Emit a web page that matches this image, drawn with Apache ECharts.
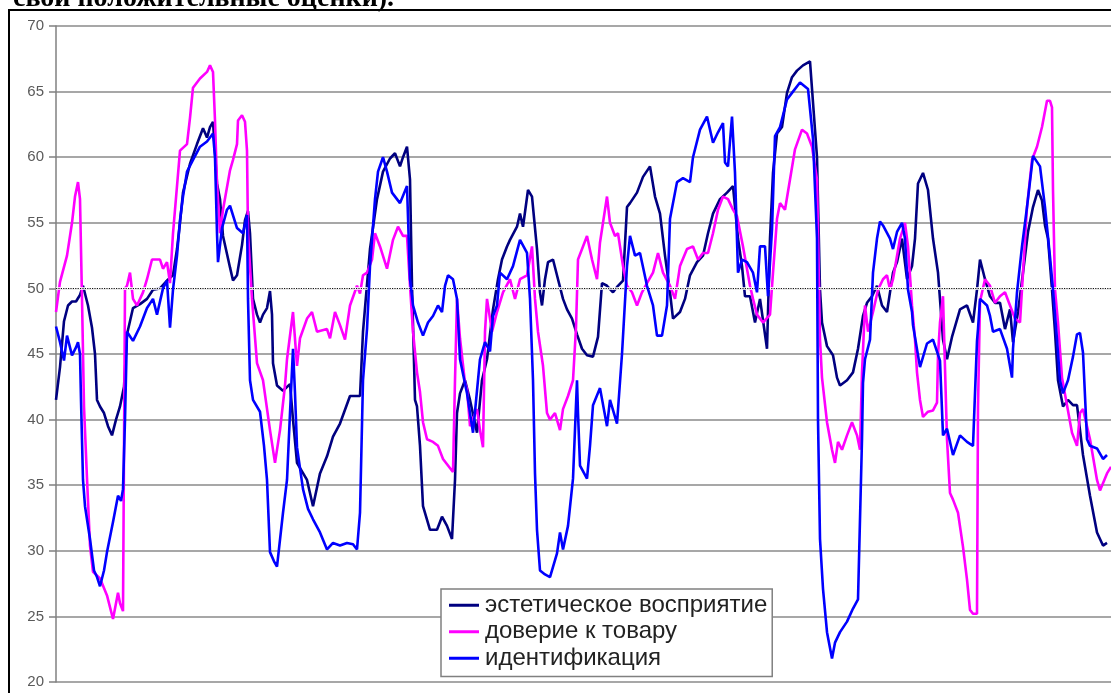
<!DOCTYPE html>
<html><head><meta charset="utf-8">
<script src="https://cdn.jsdelivr.net/npm/echarts@6/dist/echarts.min.js"></script>
<style>html,body{margin:0;padding:0;background:#fff}#c{width:1111px;height:693px}</style>
</head><body><div id="c"></div>
<script>
// ---- data (time index, value) ----
const seriesNames = ['эстетическое восприятие', 'доверие к товару', 'идентификация'];
const headerText = 'свои положительные оценки).';
const yMin = 20, yMax = 70, yStep = 5, refLevel = 50;
const tMax = 1055;

const aestheticT = [0,4,8,12,16,20,24,27,32,36,39,41,44,48,52,56,60,64,68,71,77,84,91,97,104,111,117,121,124,127,134,141,147,151,154,157,161,164,167,174,177,181,186,189,192,194,197,201,204,207,211,214,216,217,221,227,234,237,241,251,257,264,271,277,284,294,304,307,314,321,327,334,339,344,347,351,354,356,359,361,364,367,374,381,386,391,396,399,401,404,409,414,421,426,431,437,442,446,451,454,461,464,467,472,476,481,484,486,489,492,497,502,507,511,516,521,526,531,537,542,546,551,557,562,567,571,574,581,587,594,599,604,609,614,617,624,629,634,641,647,652,657,664,671,677,682,686,689,694,699,704,711,714,717,721,726,731,736,741,747,754,761,764,766,771,777,781,784,791,797,802,807,811,816,821,826,831,834,837,841,846,851,856,859,862,867,872,877,882,887,891,896,904,911,917,921,924,929,934,939,944,949,954,957,962,967,972,977,982,986,989,992,996,999,1002,1007,1012,1017,1021,1027,1034,1041,1047,1051,1055];
const aestheticV = [41.5,44,47.5,48.7,49,49,49.5,50.2,48.7,47,45,41.5,41,40.5,39.5,38.8,40,41,42.5,46.5,48.5,48.8,49.2,49.9,50,50.6,51,53,55,57.3,59.5,61,62.2,61.5,62.3,62.7,58,56.8,54,51.6,50.6,51,53.3,55.2,55.9,54.2,49.2,48,47.4,48,48.5,49.8,48,44.3,42.6,42.2,42.7,40,36.7,35.4,33.4,35.9,37.2,38.7,39.7,41.8,41.8,46.7,53,56.8,58.9,59.9,60.3,59.3,60,60.8,58.3,50.2,41.5,41,38,33.4,31.6,31.6,32.6,31.9,30.9,35.4,40.5,42,43,41.5,39,43,44.6,48.4,50.7,52.2,53.2,53.7,54.7,55.7,54.7,57.5,57,53,49.7,48.7,50.7,52,52.2,50.7,49.2,48.4,47.7,46.5,45.4,44.9,44.8,46.3,50.4,50.2,49.7,50.2,50.6,56.2,56.5,57.3,58.5,59.3,57,55.7,52.5,49.7,47.7,48.2,49.2,51,52,52.5,54.2,55.7,56.8,57.3,57.8,53.8,51.7,49.4,49.4,47.4,49.2,45.4,53.8,58.8,61.8,62.3,64.9,66.1,66.6,67,67.3,60,49.9,47.4,45.6,44.9,43.2,42.6,43,43.6,45.4,47.9,48.9,49.4,50.2,48.7,48.2,49.7,51.2,52,53.8,50.7,51.7,53.8,58,58.8,57.5,53.8,51.2,46.1,44.6,46.3,48.4,48.7,47.4,49.9,52.2,50.7,49.4,48.9,48.9,46.9,48.4,45.9,48.2,51.2,54.3,56.2,57.5,56.7,54.8,53.8,49.9,46.7,43,41,41.5,41.1,41.1,37.3,34.2,31.4,30.4,30.6];

const trustT = [0,4,11,16,19,22,24,26,28,31,34,37,44,51,57,62,64,67,69,71,74,77,81,87,91,96,104,107,111,114,117,121,124,131,134,137,144,151,154,157,159,161,164,167,174,177,181,182,186,189,191,192,196,201,207,214,219,224,229,231,237,241,244,251,256,261,271,274,279,284,289,294,301,304,307,311,316,319,324,331,337,342,347,351,354,357,361,364,367,371,377,382,387,392,397,399,401,404,409,411,414,421,424,427,429,431,436,441,447,454,459,464,471,476,479,482,487,491,494,499,504,507,512,517,520,522,527,531,536,541,544,547,551,554,559,562,567,571,576,581,586,591,597,602,607,614,619,624,631,637,642,647,652,657,662,667,672,677,681,687,694,697,701,707,714,717,721,724,729,734,739,746,751,756,761,764,766,771,776,779,782,786,791,796,801,804,806,809,812,817,822,827,831,834,837,844,849,852,856,859,861,864,867,872,877,881,882,884,887,891,894,897,902,907,911,914,917,921,922,924,929,934,939,944,949,954,959,964,967,971,976,981,986,991,994,996,997,999,1002,1006,1011,1016,1021,1024,1027,1034,1041,1044,1051,1055];
const trustV = [48.2,50.5,52.5,55,57,58.1,56.8,49.2,41,35.5,30.4,28.4,27.9,26.6,24.8,26.8,26,25.4,50,50.2,51.2,49.2,48.7,49.7,50.7,52.2,52.2,51.5,52,50.4,54.2,57.8,60.5,61,63,65.3,66,66.5,67,66.5,62.8,58,54.2,56,59,59.8,61,62.8,63.2,62.7,60.5,54.2,49.2,44.3,43,39.2,36.7,39.2,42.6,44.6,48.2,44.1,46.2,47.7,48.2,46.7,46.9,46.2,48.2,47.2,46.1,48.7,50.2,49.6,51,51.2,52.2,54.2,53.2,51.5,53.7,54.7,54,54,50.2,46.7,43.6,42.1,39.8,38.5,38.3,38,37,36.5,36,43,49.2,46.2,42.8,42.3,39.5,40.8,39.2,37.9,46.7,49.2,46.7,48.2,49.7,50.7,49.2,50.7,51,53.2,49.2,46.7,44.1,40.5,40,40.5,39.2,40.8,41.8,43,47,52.2,53.2,54,52.2,50.7,53.5,55,57,55,54,54.2,51.7,50.2,49.7,48.7,49.7,50.4,51.2,52.7,51.2,50.2,49.2,51.7,53,53.2,52.2,52.7,52.7,54.2,56,57,56.8,56,55.5,53.2,50.2,49.2,48,47.4,48,51.2,55.3,56.5,56,58.3,60.6,62.1,61.8,60.8,58.3,46.1,43.2,39.8,37.7,36.7,38.3,37.7,38.8,39.8,38.8,37.7,43.6,48.7,46.7,48.2,49.9,50.7,51,49.9,50.7,53.8,55,53.2,48.7,46.1,43.6,41.5,40.2,40.6,40.7,41.3,44.9,47.4,49.4,38.5,34.4,33.9,32.9,30.3,27.8,25.5,25.2,25.2,41,49,50.7,50.2,48.9,49.4,49.7,48.7,47.7,47.4,51.2,56.2,59.8,60.8,62.3,64.3,64.3,63.8,57.5,49.9,47.4,43.2,41.1,39,38,40.5,40.8,38.5,35.4,34.6,35.9,36.4];

const identT = [0,4,8,11,16,20,22,24,25,27,29,34,38,41,44,48,51,57,62,65,67,69,71,77,84,91,97,101,107,111,114,117,121,124,127,131,137,144,151,157,159,161,162,166,171,174,181,187,191,192,194,197,204,208,211,214,218,221,227,231,234,237,239,241,247,252,257,264,271,277,284,291,297,301,304,307,311,314,319,322,327,331,336,344,351,354,357,362,367,372,377,382,386,389,392,397,401,404,411,417,424,429,434,437,441,444,451,457,464,471,474,477,479,481,484,489,494,501,504,507,512,517,521,522,524,531,534,537,544,551,554,561,566,571,574,579,584,591,597,601,606,611,614,621,627,634,637,644,651,657,662,667,669,672,676,679,682,686,691,697,701,704,709,712,716,719,724,731,736,744,752,757,761,762,764,767,771,776,779,784,791,797,802,806,807,809,814,817,821,824,827,834,837,841,846,849,852,856,857,864,871,877,884,887,891,897,904,911,917,921,922,924,931,934,937,944,951,956,957,961,966,971,977,984,989,994,997,1001,1004,1007,1012,1017,1021,1024,1027,1031,1034,1041,1047,1051,1055];
const identV = [47.1,45.9,44.5,46.4,44.9,45.5,45.9,45,41.5,35.4,33.4,30.9,28.5,28,27.3,28.5,29.9,32.2,34.2,33.8,34.7,40,46.7,46,47.1,48.5,49.2,48,50,50.6,47,49.9,52.5,55.2,57,58.9,59.8,60.8,61.2,61.8,60,54.2,52,54.6,56,56.3,54.6,54.2,55.6,49.2,43,41.5,40.6,38,35.4,29.9,29.2,28.8,32.9,35.4,40.5,45.4,42,37.9,34.7,33.2,32.4,31.4,30.1,30.6,30.4,30.6,30.5,30.1,32.9,43,46.9,51.7,56.8,58.9,60,58.9,57.3,56.5,57.8,50.7,48.7,47.4,46.4,47.4,47.9,48.7,48.2,50.2,51,50.7,49.2,44.6,42,39,44.6,45.9,45.2,47.9,48.7,51.2,50.7,51.7,53.7,52.7,49.2,43,35.9,31.6,28.5,28.2,28,29.8,31.4,30.1,31.9,35.5,43,40.5,36.5,35.5,38,41.1,42.4,39.5,41.5,39.7,45,51.7,54,52.5,52.7,50.2,48.7,46.4,46.4,48.7,55.3,58.1,58.4,58.1,60,62.1,63.1,61.1,61.9,62.6,59.6,59.3,63.1,58.8,51.2,52.2,52,51.2,49.7,53.2,53.2,49.4,54.5,61.6,62.3,64.4,64.9,65.7,65.2,61.4,53.8,40,30.9,27.1,23.8,21.8,23,23.8,24.6,25.6,26.3,38.5,42.8,44.6,46.1,51.2,53.8,55.1,54.8,53.8,53,54.3,55,53.8,49.9,48.2,47.2,44,45.8,46.1,44.5,38.8,39.3,37.3,38.8,38.3,38,46,46.9,49.2,48.7,47.9,46.7,46.9,45.4,43.2,45.4,49.7,53.2,56.2,60.1,59.3,56.2,52.4,49.9,46.1,43,42,43,44.8,46.5,46.6,45.1,38.5,38,37.8,37,37.3];

// ---- build ----
const zip = (t, v) => t.map((x, i) => [x, v[i]]);
const colors = ['#000080', '#FF00FF', '#0000FF'];
const seriesData = [zip(aestheticT, aestheticV), zip(trustT, trustV), zip(identT, identV)];

const chart = echarts.init(document.getElementById('c'), null, {renderer: 'canvas'});
chart.setOption({
  animation: false,
  backgroundColor: '#fff',
  graphic: [
    {type: 'rect', silent: true, z: 100,
     shape: {x: 9, y: 10, width: 1300, height: 900},
     style: {fill: 'none', stroke: '#000', lineWidth: 2}},
    {type: 'text', silent: true, left: 13, top: -15, z: 100,
     style: {text: headerText, font: 'bold 28px "Liberation Serif"', fill: '#000'}}
  ],
  grid: {left: 56, top: 26, right: 0, bottom: 11, containLabel: false},
  xAxis: {type: 'value', min: 0, max: tMax, show: false},
  yAxis: {
    type: 'value', min: yMin, max: yMax, interval: yStep,
    axisLine: {show: true, lineStyle: {color: '#808080', width: 1.5}},
    axisTick: {show: true, length: 7, lineStyle: {color: '#808080', width: 1.5}},
    axisLabel: {color: '#5a5a5a', fontSize: 15, fontFamily: 'Liberation Sans', margin: 12},
    splitLine: {show: true, lineStyle: {color: '#8a8a8a', width: 1.6}}
  },
  legend: {
    data: seriesNames,
    orient: 'vertical', left: 441, top: 589,
    backgroundColor: '#fff', borderColor: '#808080', borderWidth: 1.5, borderRadius: 0,
    padding: [4, 5, 6, 8], itemGap: 2,
    itemWidth: 30, itemHeight: 3, icon: 'rect', itemStyle: {borderWidth: 0},
    textStyle: {fontSize: 24, fontFamily: 'Liberation Sans', color: '#222', lineHeight: 24.5, padding: [0, 0, 0, 1]}
  },
  series: seriesNames.map((name, i) => ({
    name, type: 'line', data: seriesData[i], showSymbol: false, symbol: 'none',
    lineStyle: {color: colors[i], width: 2.6}, itemStyle: {color: colors[i]},
    z: 3 + i,
    markLine: i === 0 ? {
      silent: true, symbol: 'none', label: {show: false},
      data: [
        {yAxis: refLevel, lineStyle: {color: '#fff', type: 'solid', width: 2.5}},
        {yAxis: refLevel, lineStyle: {color: '#111', type: 'dotted', width: 1.2}}
      ]
    } : undefined
  }))
});
</script></body></html>
